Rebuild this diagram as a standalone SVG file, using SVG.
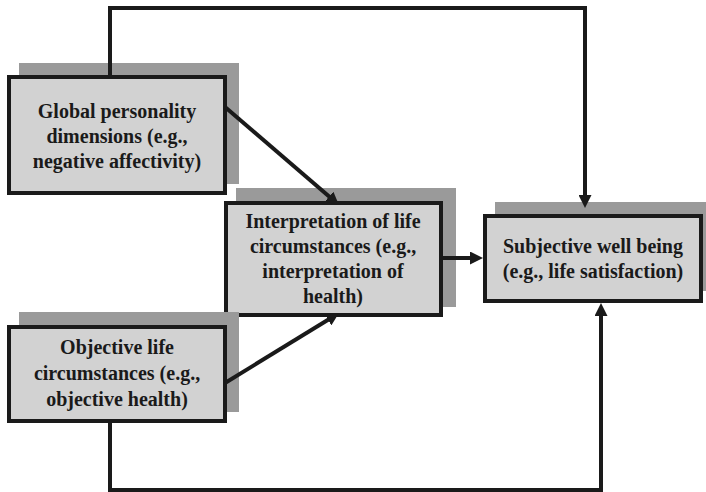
<svg xmlns="http://www.w3.org/2000/svg" width="706" height="492" viewBox="0 0 706 492">
<style>
.shadow{fill:#9a9a9a;stroke:none}
.box{fill:#d2d2d2;stroke:#1a1a1a;stroke-width:4}
.conn{fill:none;stroke:#1a1a1a;stroke-width:4;marker-end:url(#ah)}
</style>
<defs>
<marker id="ah" markerUnits="userSpaceOnUse" markerWidth="13" markerHeight="13" refX="5" refY="6.5" orient="auto">
<path d="M0,0 L13,6.5 L0,13 z" fill="#1a1a1a"/>
</marker>
</defs>
<rect width="706" height="492" fill="#ffffff"/>
<g font-family="Liberation Serif, DejaVu Serif, serif" font-weight="bold" font-size="20" fill="#1a1a1a" text-anchor="middle">
<g id="node-global">
<rect class="shadow" x="19" y="63" width="220" height="121"/>
<rect class="box" x="9" y="77" width="216" height="116"/>
<text x="117" y="118">Global personality</text>
<text x="117" y="143">dimensions (e.g.,</text>
<text x="117" y="168">negative affectivity)</text>
</g>
<g id="node-interp">
<rect class="shadow" x="236" y="188" width="220" height="119"/>
<rect class="box" x="226" y="203" width="215" height="112"/>
<text x="333" y="228">Interpretation of life</text>
<text x="333" y="253">circumstances (e.g.,</text>
<text x="333" y="278">interpretation of</text>
<text x="333" y="303">health)</text>
</g>
<g id="node-swb">
<rect class="shadow" x="495" y="202" width="220" height="89"/>
<rect class="box" x="485" y="216" width="216" height="85"/>
<text x="593" y="253">Subjective well being</text>
<text x="593" y="278">(e.g., life satisfaction)</text>
</g>
<g id="node-objective">
<rect class="shadow" x="19" y="312" width="220" height="100"/>
<rect class="box" x="9" y="327" width="216" height="94"/>
<text x="117" y="354">Objective life</text>
<text x="117" y="380">circumstances (e.g.,</text>
<text x="117" y="406">objective health)</text>
</g>
</g>
<g id="connectors">
<path class="conn" d="M110,77 V8 H585 V200"/>
<path class="conn" d="M110,421 V490 H601 V311"/>
<path class="conn" d="M441,258 H475"/>
<path class="conn" d="M225,107 L332.9,199.8"/>
<path class="conn" d="M225,383 L332.2,317.2"/>
</g>
</svg>
